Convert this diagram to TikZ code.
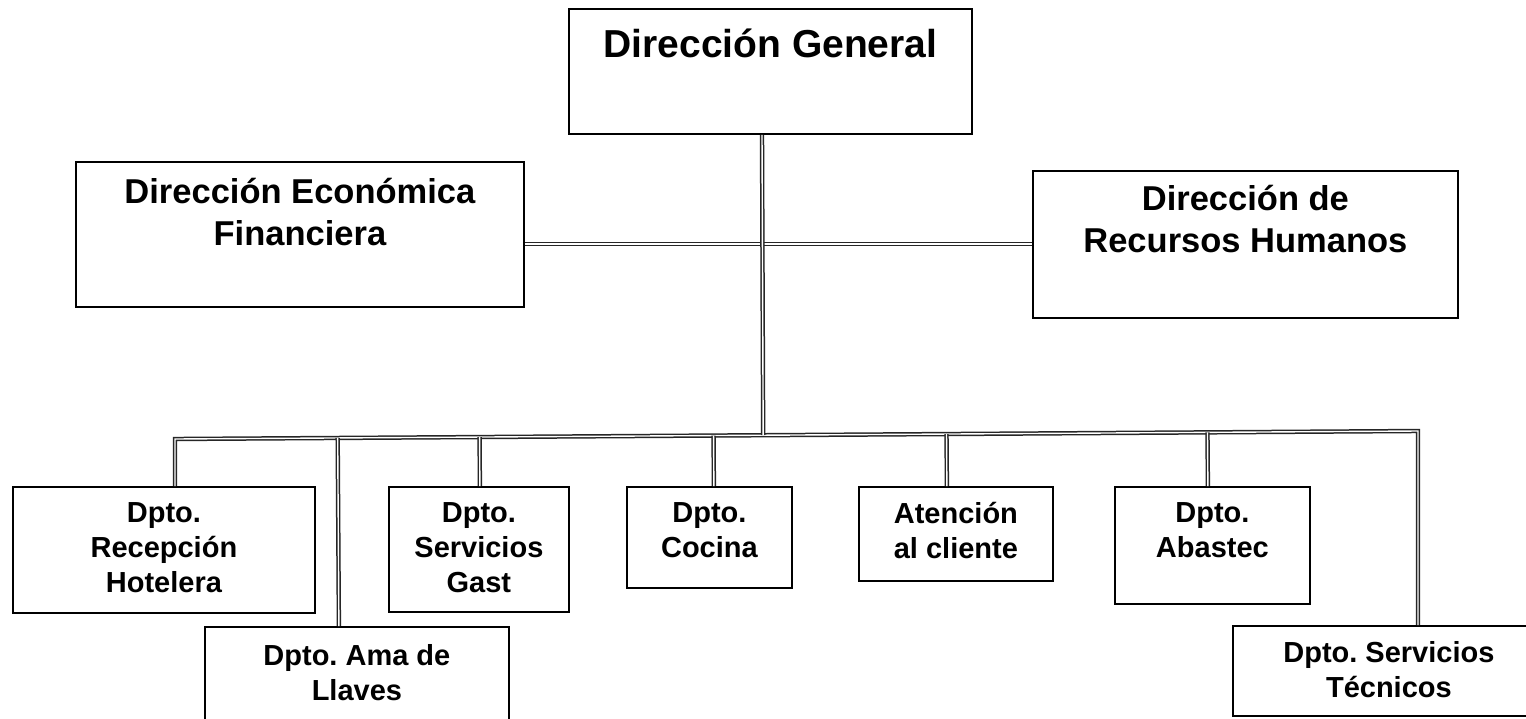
\documentclass[tikz,border=0pt]{standalone}
\usepackage{fontspec}
\setmainfont{Liberation Sans}
\usetikzlibrary{calc}
\frenchspacing

\tikzset{
  unit/.style={draw, line width=1.8pt, anchor=north west, inner sep=0pt},
  rama/.style={draw=black!85, double=white, line width=1.5pt, double distance=1.4pt},
  tbig/.style={font=\fontsize{39}{46}\selectfont\bfseries, align=center, inner sep=0pt, anchor=north},
  tmid/.style={font=\fontsize{34.5}{42}\selectfont\bfseries, align=center, inner sep=0pt, anchor=north},
  tsmall/.style={font=\fontsize{29}{35}\selectfont\bfseries, align=center, inner sep=0pt, anchor=north},
}

\begin{document}
\begin{tikzpicture}[x=1pt,y=-1pt]
  % Page frame
  \path[use as bounding box, fill=white] (0,0) rectangle (1526,718);
  % Top level
  \node[unit, minimum width=403pt, minimum height=125pt,
    label={[tbig, yshift=-20.5pt]north:Dirección General}] (dg) at (568,8) {};
  % Second level
  \node[unit, minimum width=448pt, minimum height=145pt,
    label={[tmid, yshift=-17pt]north:{Dirección Económica\\Financiera}}] (def) at (75,161) {};
  \node[unit, minimum width=425pt, minimum height=147pt,
    label={[tmid, yshift=-15pt]north:{Dirección de\\Recursos Humanos}}] (drh) at (1032,170) {};
  % Departments
  \node[unit, minimum width=302pt, minimum height=126pt,
    label={[tsmall, yshift=-16pt]north:{Dpto.\\Recepción\\Hotelera}}] (rec) at (12,486) {};
  \node[unit, minimum width=304pt, minimum height=110pt,
    label={[tsmall, yshift=-18pt]north:{Dpto. Ama de\\Llaves}}] (ama) at (204,626) {};
  \node[unit, minimum width=180pt, minimum height=125pt,
    label={[tsmall, yshift=-16pt]north:{Dpto.\\Servicios\\Gast}}] (gast) at (388,486) {};
  \node[unit, minimum width=165pt, minimum height=101pt,
    label={[tsmall, yshift=-16pt]north:{Dpto.\\Cocina}}] (coc) at (626,486) {};
  \node[unit, minimum width=194pt, minimum height=94pt,
    label={[tsmall, yshift=-16pt]north:{Atención\\al cliente}}] (ate) at (858,486) {};
  \node[unit, minimum width=195pt, minimum height=117pt,
    label={[tsmall, yshift=-16pt]north:{Dpto.\\Abastec}}] (aba) at (1114,486) {};
  \node[unit, minimum width=312pt, minimum height=90pt,
    label={[tsmall, yshift=-16pt]north:{Dpto. Servicios\\Técnicos}}] (tec) at (1232,625) {};
  % Trunk and branches
  \coordinate (hub) at (762,244);
  \coordinate (busL) at (175,439);
  \coordinate (busR) at (1418,431);
  \draw[rama] (def.east |- hub) -- (drh.west |- hub);
  \draw[rama] (rec.north -| busL) -- (busL) -- (busR) -- (tec.north -| busR);
  \draw[rama] (dg.south -| hub) -- ($(busL)!(hub)!(busR)$);
  % Drops to the departments
  \draw[rama] ($(busL)!([xshift=-18pt]ama.north)!(busR)$) -- ([xshift=-18pt]ama.north);
  \draw[rama] ($(busL)!([xshift=1pt]gast.north)!(busR)$) -- ([xshift=1pt]gast.north);
  \draw[rama] ($(busL)!([xshift=4.5pt]coc.north)!(busR)$) -- ([xshift=4.5pt]coc.north);
  \draw[rama] ($(busL)!([xshift=-9pt]ate.north)!(busR)$) -- ([xshift=-9pt]ate.north);
  \draw[rama] ($(busL)!([xshift=-4.5pt]aba.north)!(busR)$) -- ([xshift=-4.5pt]aba.north);
\end{tikzpicture}
\end{document}
